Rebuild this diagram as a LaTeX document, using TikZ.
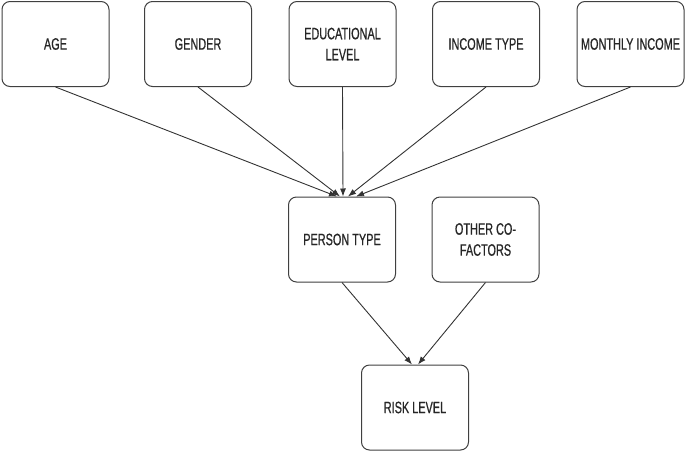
\documentclass[tikz,border=0pt]{standalone}
\usepackage{fontspec}
\setmainfont{Liberation Sans}[FakeStretch=0.66,FakeBold=0.6]
\usetikzlibrary{arrows.meta}

\tikzset{
  factor/.style={draw=black!75, line width=1pt, rounded corners=8pt, fill=white,
    minimum width=107pt, minimum height=85pt, align=center, inner sep=2pt,
    font=\fontsize{16.5}{21}\selectfont, text=black!85},
  link/.style={draw=black!80, line width=0.9pt, >={Latex[length=8pt,width=6pt]}, ->}
}

\begin{document}
\begin{tikzpicture}[x=1pt,y=-1pt]

\useasboundingbox (0,0) rectangle (685,453);

\node [factor] (age) at (55.5,44) {AGE};
\node [factor] (gender) at (198,44) {GENDER};
\node [factor] (edu) at (342.5,44) {EDUCATIONAL\\LEVEL};
\node [factor] (inctype) at (486,44) {INCOME TYPE};
\node [factor] (monthly) at (630.5,44) {MONTHLY INCOME};

\node [factor] (ptype) at (342,239.5) {PERSON TYPE};
\node [factor] (other) at (485.5,239.5) {OTHER CO-\\FACTORS};

\node [factor] (risk) at (415,407.5) {RISK LEVEL};

\draw [link] (age.south) -- ([xshift=-5pt]ptype.north);
\draw [link] (gender.south) -- ([xshift=-2pt]ptype.north);
\draw [link] (edu.south) -- ([xshift=1pt]ptype.north);
\draw [link] (inctype.south) -- ([xshift=6pt]ptype.north);
\draw [link] (monthly.south) -- ([xshift=14pt]ptype.north);

\draw [link] (ptype.south) -- ([xshift=-3pt]risk.north);
\draw [link] (other.south) -- ([xshift=3pt]risk.north);

\end{tikzpicture}
\end{document}
